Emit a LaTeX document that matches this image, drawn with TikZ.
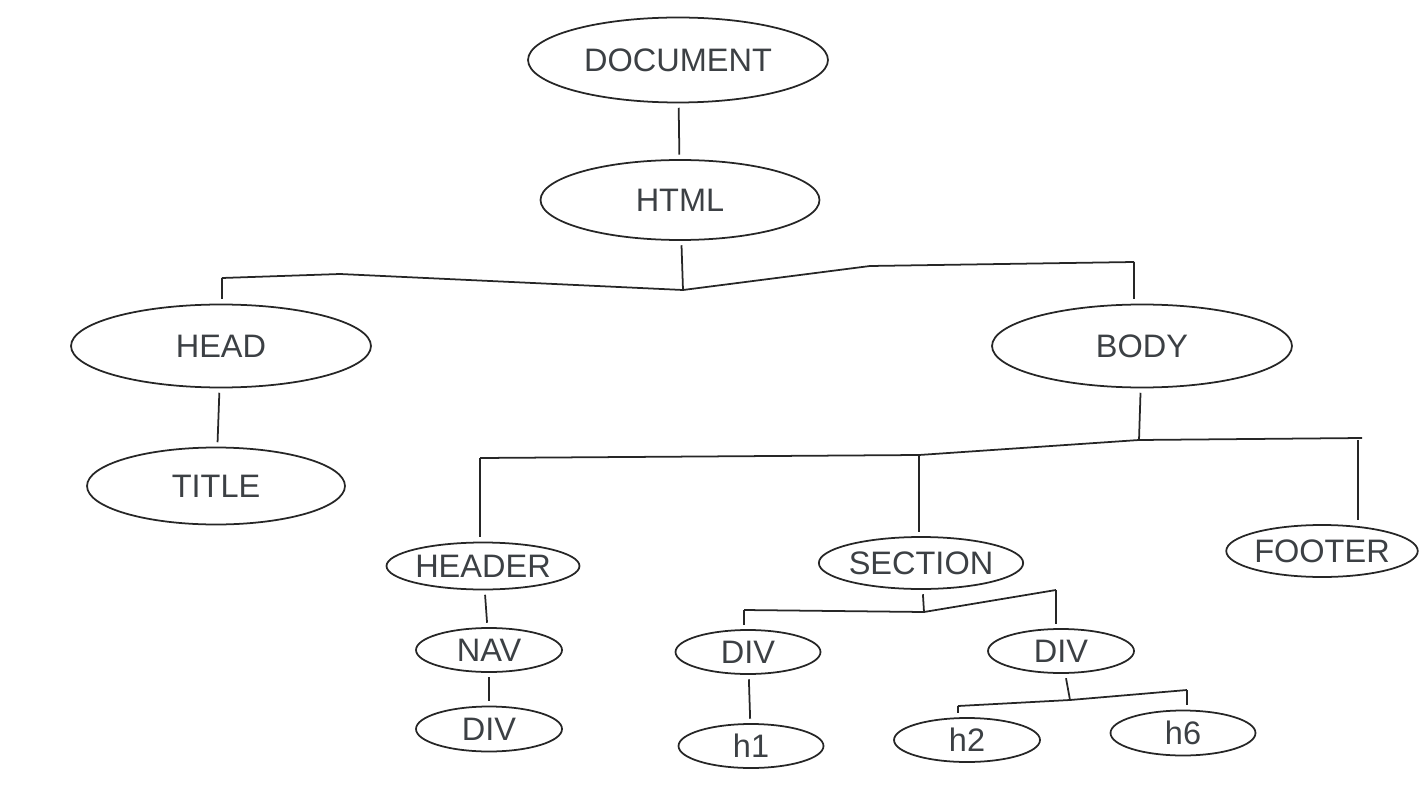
\documentclass[tikz,border=0pt]{standalone}
\usepackage{fontspec}
\setmainfont{Liberation Sans}
\usetikzlibrary{shapes.geometric}
\definecolor{InkLine}{RGB}{38,38,38}
\definecolor{InkText}{RGB}{60,64,68}

\begin{document}
\begin{tikzpicture}[x=0.02cm,y=-0.02cm,
    tag/.style={draw=InkLine, ellipse, line width=1pt, inner sep=0pt,
      outer sep=3pt, text=InkText, font=\fontsize{18.5}{20}\selectfont},
    conn/.style={draw=InkLine, line width=1pt, line join=round}]
  \useasboundingbox (0,0) rectangle (1422,800);
  % top of the tree
  \node[tag, minimum width=6cm, minimum height=1.7cm] (doc) at (678,60) {DOCUMENT};
  \node[tag, minimum width=5.58cm, minimum height=1.6cm] (html) at (680,200) {HTML};
  \node[tag, minimum width=6cm, minimum height=1.66cm] (head) at (221,346) {HEAD};
  \node[tag, minimum width=6cm, minimum height=1.66cm] (body) at (1142,346) {BODY};
  \node[tag, minimum width=5.16cm, minimum height=1.54cm] (title) at (216,486) {TITLE};
  % children of body
  \node[tag, minimum width=3.86cm, minimum height=0.94cm] (header) at (483,566) {HEADER};
  \node[tag, minimum width=3.86cm, minimum height=1.04cm] (section) at (921,563) {SECTION};
  \node[tag, minimum width=3.82cm, minimum height=1.04cm] (footer) at (1322,551) {FOOTER};
  \node[tag, minimum width=2.92cm, minimum height=0.88cm] (nav) at (489,650) {NAV};
  \node[tag, minimum width=2.92cm, minimum height=0.9cm] (navdiv) at (489,729) {DIV};
  \node[tag, minimum width=2.9cm, minimum height=0.88cm] (ldiv) at (748,652) {DIV};
  \node[tag, minimum width=2.92cm, minimum height=0.88cm] (rdiv) at (1061,651) {DIV};
  \node[tag, minimum width=2.9cm, minimum height=0.88cm] (hone) at (751,746) {h1};
  \node[tag, minimum width=2.92cm, minimum height=0.88cm] (htwo) at (967,740) {h2};
  \node[tag, minimum width=2.9cm, minimum height=0.9cm] (hsix) at (1183,733) {h6};

  % junctions
  \coordinate (htmlj) at (683,290);
  \coordinate (headj) at (222,278);
  \coordinate (bodyj) at (1134,262);
  \coordinate (bodyk) at (1139,440);
  \coordinate (headerj) at (480,458);
  \coordinate (sectionj) at (919,455);
  \coordinate (footerj) at (1358,440);
  \coordinate (secj) at (924,612);
  \coordinate (ldivj) at (744,610);
  \coordinate (rdivj) at (1056,590);
  \coordinate (rdivk) at (1070,700);
  \coordinate (htwoj) at (958,706);
  \coordinate (hsixj) at (1187,690);

  \draw[conn] (doc) -- (html);
  \draw[conn] (html) -- (htmlj);
  \draw[conn] (headj) -- (340,274) -- (htmlj) -- (870,266) -- (bodyj);
  \draw[conn] (headj) -- (headj |- head.north);
  \draw[conn] (bodyj) -- (bodyj |- body.north);
  \draw[conn] (head) -- (title);
  \draw[conn] (body) -- (bodyk);
  \draw[conn] (headerj) -- (sectionj) -- (bodyk) -- (1362,438);
  \draw[conn] (headerj) -- (headerj |- header.north);
  \draw[conn] (sectionj) -- (sectionj |- section.north);
  \draw[conn] (footerj) -- (footerj |- footer.north);
  \draw[conn] (header) -- (nav);
  \draw[conn] (nav) -- (navdiv);
  \draw[conn] (section) -- (secj);
  \draw[conn] (ldivj) -- (secj) -- (rdivj);
  \draw[conn] (ldivj) -- (ldivj |- ldiv.north);
  \draw[conn] (rdivj) -- (rdivj |- rdiv.north);
  \draw[conn] (ldiv) -- (hone);
  \draw[conn] (rdiv) -- (rdivk);
  \draw[conn] (htwoj) -- (rdivk) -- (hsixj);
  \draw[conn] (htwoj) -- (htwoj |- htwo.north);
  \draw[conn] (hsixj) -- (hsixj |- hsix.north);
\end{tikzpicture}
\end{document}
